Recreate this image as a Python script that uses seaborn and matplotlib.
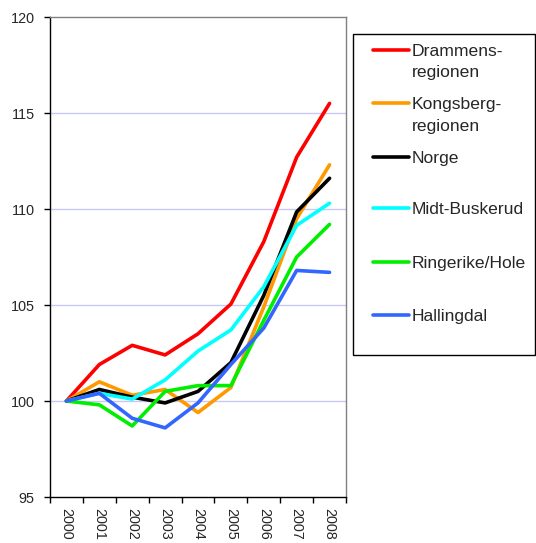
import numpy as np
import pandas as pd
import seaborn as sns
import matplotlib
matplotlib.use("Agg")
import matplotlib.pyplot as plt
from matplotlib.patches import Rectangle
from matplotlib.lines import Line2D
from matplotlib.ticker import FixedLocator

years = [2000, 2001, 2002, 2003, 2004, 2005, 2006, 2007, 2008]
drammens = [100, 101.9, 102.9, 102.4, 103.5, 105.05, 108.3, 112.7, 115.5]
kongsberg = [100, 101.0, 100.3, 100.6, 99.4, 100.7, 104.9, 109.5, 112.3]
norge = [100, 100.6, 100.2, 99.9, 100.5, 102.0, 105.5, 109.85, 111.6]
midt = [100, 100.4, 100.1, 101.1, 102.6, 103.7, 105.95, 109.15, 110.3]
ringerike = [100, 99.8, 98.7, 100.5, 100.8, 100.8, 104.2, 107.5, 109.2]
hallingdal = [100, 100.4, 99.1, 98.6, 99.9, 101.9, 103.8, 106.8, 106.7]

series_names = ["Drammensregionen", "Kongsbergregionen", "Norge",
                "Midt-Buskerud", "Ringerike/Hole", "Hallingdal"]
legend_labels = [["Drammens-", "regionen"], ["Kongsberg-", "regionen"], ["Norge"],
                 ["Midt-Buskerud"], ["Ringerike/Hole"], ["Hallingdal"]]
colors = ["#FF0000", "#FF9900", "#000000", "#00FFFF", "#00EE00", "#3366FF"]
values = [drammens, kongsberg, norge, midt, ringerike, hallingdal]

df = pd.DataFrame({
    "year": np.tile(years, len(series_names)),
    "value": np.concatenate(values),
    "region": np.repeat(series_names, len(years)),
})

sns.set_style("white")
plt.rcParams["font.family"] = ["Liberation Sans", "DejaVu Sans"]

W, H = 536, 543
fig = plt.figure(figsize=(W / 100, H / 100), dpi=100)
ax = fig.add_axes([50 / W, 1 - 497 / H, (346 - 50) / W, (497 - 17) / H])

sns.lineplot(data=df, x="year", y="value", hue="region", hue_order=series_names,
             palette=dict(zip(series_names, colors)), linewidth=2.6, ax=ax,
             legend=True, zorder=3)

ax.set_xlim(1999.5, 2008.5)
ax.set_ylim(95, 120)
ax.set_xlabel("")
ax.set_ylabel("")

ax.set_yticks([95, 100, 105, 110, 115, 120])
ax.set_yticklabels(["95", "100", "105", "110", "115", "120"], fontsize=10.4)
for yv in [100, 105, 110, 115]:
    ax.axhline(yv, color="#C8C8F5", linewidth=1.0, zorder=1)

ax.set_xticks(years)
ax.set_xticklabels([str(y) for y in years], rotation=270, fontsize=10.4)
ax.xaxis.set_minor_locator(FixedLocator(np.arange(1999.5, 2009, 1.0)))
ax.tick_params(axis="x", which="major", length=0, pad=8)
ax.tick_params(axis="x", which="minor", length=4, width=1, color="black", direction="out", bottom=True)
ax.tick_params(axis="y", which="major", length=4, width=1, color="black", direction="out", left=True, pad=7)

for side in ["left", "bottom"]:
    ax.spines[side].set_color("black")
    ax.spines[side].set_linewidth(1.0)
for side in ["top", "right"]:
    ax.spines[side].set_color("#808080")
    ax.spines[side].set_linewidth(1.0)

# legend (Excel-style box with irregular entry spacing)
handles, _ = ax.get_legend_handles_labels()
ax.get_legend().remove()
entry_y = [49.5, 103, 157, 208, 262, 315]
line_gap = 21.5
for h, labs, yc in zip(handles, legend_labels, entry_y):
    fig.add_artist(Line2D([373 / W, 409 / W], [1 - yc / H, 1 - yc / H],
                          color=h.get_color(), linewidth=2.6,
                          transform=fig.transFigure))
    for k, txt in enumerate(labs):
        fig.text(412 / W, 1 - (yc + 6 + k * line_gap) / H, txt,
                 fontsize=12.6, va="baseline", ha="left")

fig.add_artist(Rectangle((353 / W, 1 - 355 / H), (535 - 353) / W, (355 - 34) / H,
                         transform=fig.transFigure, fill=False,
                         edgecolor="black", linewidth=1.0))

fig.savefig("out.png", dpi=100)
